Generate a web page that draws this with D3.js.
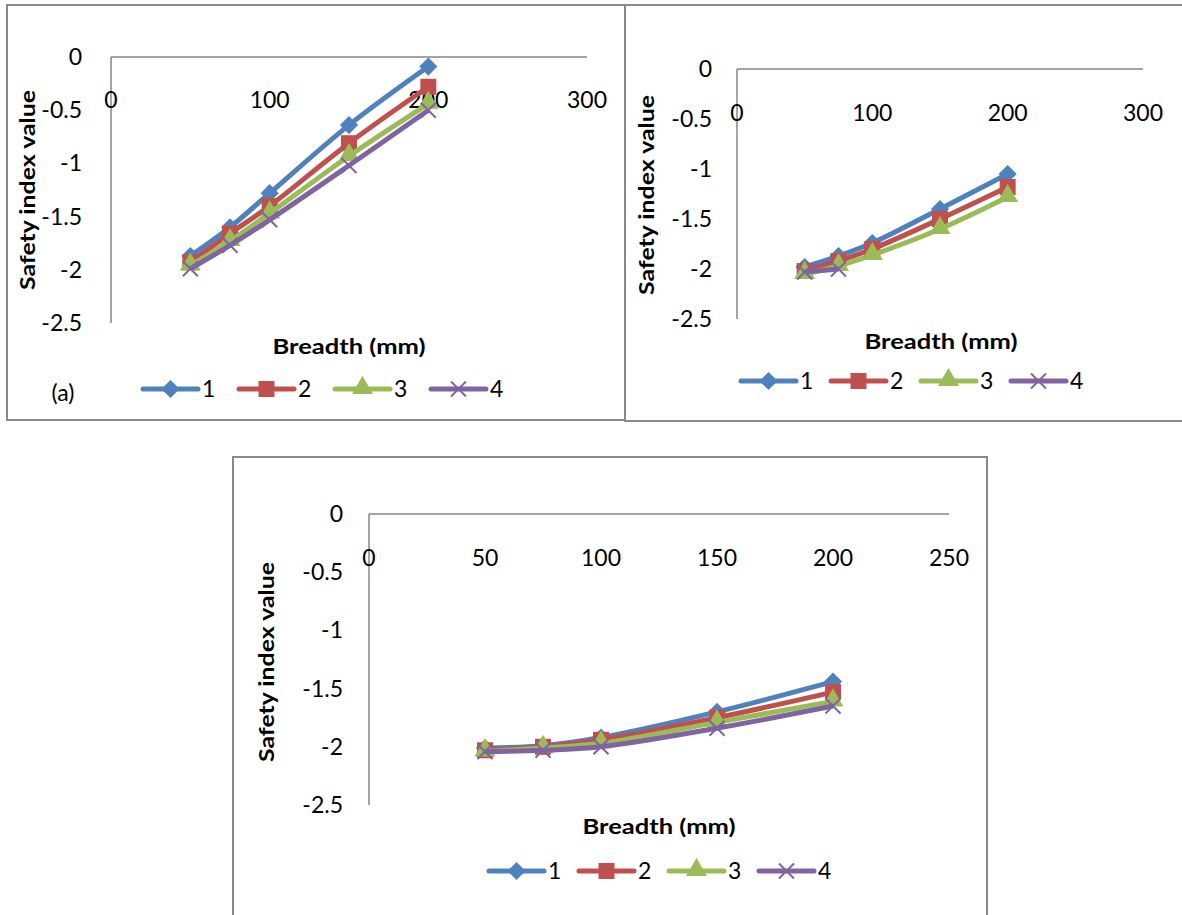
<!DOCTYPE html>
<head>
  <meta charset="utf-8">
  <style>
    body { margin: 0; background: #fff; }
    svg text { font-family: Lato, "Open Sans", sans-serif; fill: #000; }
    .tick-label { font-size: 23px; }
    .axis-title { font-size: 20px; font-weight: bold; }
    .frame { fill: none; stroke: #898989; stroke-width: 2; }
    .axis-line { stroke: #868686; stroke-width: 1.5; }
  </style>
  <script src="https://d3js.org/d3.v7.min.js"></script>
</head>

<body>
  <svg id="chart" width="1182" height="915"></svg>
  <script>
  // breadth values (mm)
  var breadth = [50, 75, 100, 150, 200];

  // panel (a)
  var a1 = [-1.87, -1.60, -1.28, -0.64, -0.09];
  var a2 = [-1.93, -1.66, -1.40, -0.81, -0.28];
  var a3 = [-1.96, -1.73, -1.47, -0.93, -0.44];
  var a4 = [-1.99, -1.77, -1.53, -1.02, -0.50];

  // panel (b) - series 4 only has the first two points
  var b1 = [-1.98, -1.87, -1.74, -1.40, -1.05];
  var b2 = [-2.02, -1.92, -1.80, -1.50, -1.18];
  var b3 = [-2.05, -1.97, -1.86, -1.60, -1.28];
  var b4 = [-2.03, -2.00, null, null, null];

  // panel (c)
  var c1 = [-2.01, -1.99, -1.92, -1.70, -1.44];
  var c2 = [-2.03, -2.00, -1.94, -1.75, -1.53];
  var c3 = [-2.04, -2.01, -1.97, -1.79, -1.61];
  var c4 = [-2.04, -2.03, -2.00, -1.84, -1.65];

  var seriesNames = ["1", "2", "3", "4"];
  var xTicksAB = [0, 100, 200, 300];
  var xTicksC = [0, 50, 100, 150, 200, 250];
  var yTicks = [0, -0.5, -1, -1.5, -2, -2.5];

  var colors = ["#4f81bd", "#c0504d", "#9bbb59", "#8064a2"];

  var svg = d3.select("#chart");

  // panel frames
  svg.append("rect").attr("class", "frame").attr("x", 7).attr("y", 5).attr("width", 618).attr("height", 415);
  svg.append("rect").attr("class", "frame").attr("x", 625).attr("y", 5).attr("width", 570).attr("height", 416);
  svg.append("rect").attr("class", "frame").attr("x", 233).attr("y", 457).attr("width", 754).attr("height", 480);

  var panels = [
    { series: [a1, a2, a3, a4], xMax: 300, xTicks: xTicksAB,
      xr: [111, 587], yr: [57, 323], xLabY: 43, yLabX: 29,
      title: [28, 190], xTitle: [349, 347],
      legend: { x: 143, y: 389, step: 96 }, tag: "(a)" },
    { series: [b1, b2, b3, b4], xMax: 300, xTicks: xTicksAB,
      xr: [737, 1143], yr: [69, 319], xLabY: 44, yLabX: 25,
      title: [647, 195], xTitle: [941, 342],
      legend: { x: 741, y: 381, step: 90 } },
    { series: [c1, c2, c3, c4], xMax: 250, xTicks: xTicksC,
      xr: [369, 949], yr: [514, 805], xLabY: 44, yLabX: 26,
      title: [267, 662], xTitle: [659, 827],
      legend: { x: 489, y: 871, step: 90 } }
  ];

  function marker(g, i, cx, cy) {
    var m;
    if (i === 0) {
      m = g.append("path").attr("d", d3.symbol(d3.symbolSquare, 165)())
        .attr("transform", "translate(" + cx + "," + cy + ") rotate(45)");
    } else if (i === 1) {
      m = g.append("path").attr("d", d3.symbol(d3.symbolSquare, 256)())
        .attr("transform", "translate(" + cx + "," + cy + ")");
    } else if (i === 2) {
      m = g.append("path").attr("d", d3.symbol(d3.symbolTriangle, 190)())
        .attr("transform", "translate(" + cx + "," + (cy - 1) + ")");
    } else {
      var r = 7.5;
      g.append("path").attr("d", "M" + -r + "," + -r + "L" + r + "," + r + "M" + -r + "," + r + "L" + r + "," + -r)
        .attr("transform", "translate(" + cx + "," + cy + ")")
        .attr("fill", "none").attr("stroke", colors[i]).attr("stroke-width", 2);
      return;
    }
    m.attr("fill", colors[i]);
  }

  panels.forEach(function(p) {
    var x = d3.scaleLinear().domain([0, p.xMax]).range(p.xr);
    var y = d3.scaleLinear().domain([0, -2.5]).range(p.yr);
    var g = svg.append("g");

    // axes
    g.append("line").attr("class", "axis-line")
      .attr("x1", x(0)).attr("x2", x(p.xMax)).attr("y1", y(0)).attr("y2", y(0));
    g.append("line").attr("class", "axis-line")
      .attr("x1", x(0)).attr("x2", x(0)).attr("y1", y(0)).attr("y2", y(-2.5));

    g.selectAll(".xl").data(p.xTicks).enter().append("text")
      .attr("class", "tick-label")
      .attr("x", function(d) { return x(d); })
      .attr("y", y(0) + p.xLabY)
      .attr("dy", "0.35em")
      .attr("text-anchor", "middle")
      .text(function(d) { return d; });

    g.selectAll(".yl").data(yTicks).enter().append("text")
      .attr("class", "tick-label")
      .attr("x", x(0) - p.yLabX)
      .attr("y", function(d) { return y(d); })
      .attr("dy", "0.35em")
      .attr("text-anchor", "end")
      .text(function(d) { return d; });

    g.append("text").attr("class", "axis-title")
      .attr("transform", "translate(" + p.title[0] + "," + p.title[1] + ") rotate(-90)")
      .attr("text-anchor", "middle").attr("dy", "0.35em")
      .attr("textLength", 200).attr("lengthAdjust", "spacingAndGlyphs")
      .text("Safety index value");

    g.append("text").attr("class", "axis-title")
      .attr("x", p.xTitle[0]).attr("y", p.xTitle[1])
      .attr("text-anchor", "middle").attr("dy", "0.35em")
      .attr("textLength", 153).attr("lengthAdjust", "spacingAndGlyphs")
      .text("Breadth (mm)");

    // series
    var line = d3.line()
      .defined(function(d) { return d[1] !== null; })
      .x(function(d) { return x(d[0]); })
      .y(function(d) { return y(d[1]); })
      .curve(d3.curveCatmullRom);

    p.series.forEach(function(vals, i) {
      var pts = breadth.map(function(b, k) { return [b, vals[k]]; });
      g.append("path").datum(pts)
        .attr("d", line)
        .attr("fill", "none")
        .attr("stroke", colors[i])
        .attr("stroke-width", 5)
        .attr("stroke-linejoin", "round");
      pts.filter(function(d) { return d[1] !== null; }).forEach(function(d) {
        marker(g, i, x(d[0]), y(d[1]));
      });
    });

    // legend
    var L = p.legend;
    seriesNames.forEach(function(name, i) {
      var lx = L.x + i * L.step;
      g.append("line")
        .attr("x1", lx).attr("x2", lx + 55).attr("y1", L.y).attr("y2", L.y)
        .attr("stroke", colors[i]).attr("stroke-width", 5).attr("stroke-linecap", "round");
      marker(g, i, lx + 27.5, L.y);
      g.append("text").attr("class", "tick-label")
        .attr("x", lx + 59).attr("y", L.y).attr("dy", "0.35em")
        .text(name);
    });
    if (p.tag) {
      g.append("text").attr("class", "tick-label")
        .attr("x", 63).attr("y", 393).attr("dy", "0.35em")
        .attr("text-anchor", "middle").text(p.tag);
    }
  });
  </script>
</body>
</html>
